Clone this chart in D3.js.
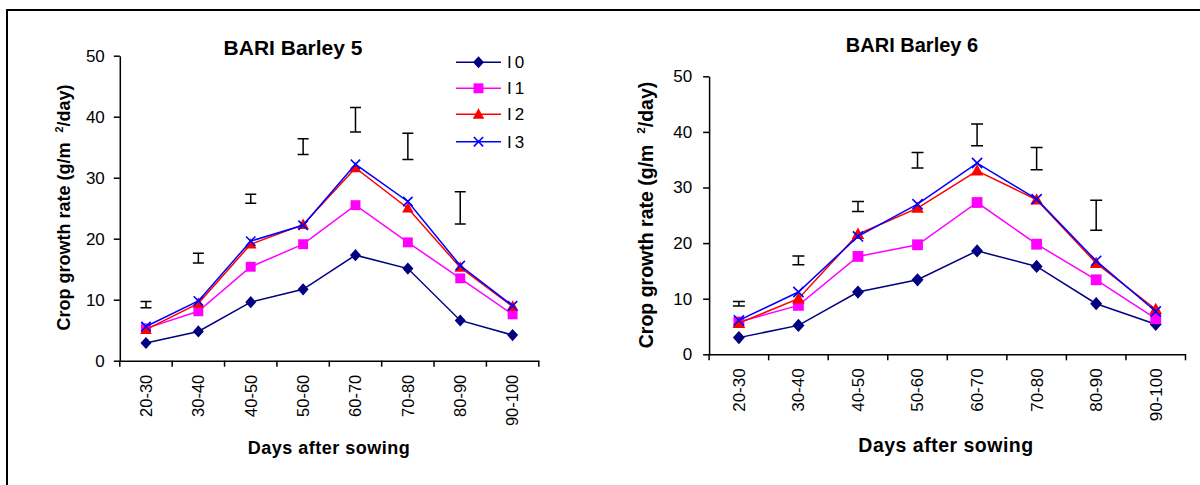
<!DOCTYPE html>
<html>
<head>
<meta charset="utf-8">
<script src="https://cdn.jsdelivr.net/npm/d3@7"></script>
<style>
  body { margin: 0; background: #fff; }
  svg { display: block; font-family: "Liberation Sans", Arial, sans-serif; }
</style>
</head>
<body>
<div id="chart"></div>
<script>
// data
const categories = ["20-30", "30-40", "40-50", "50-60", "60-70", "70-80", "80-90", "90-100"];
const yTicks = [0, 10, 20, 30, 40, 50];
const seriesNames = ["I0", "I1", "I2", "I3"];

// BARI Barley 5
const b5_I0 = [2.9, 4.8, 9.6, 11.7, 17.3, 15.1, 6.6, 4.2];
const b5_I1 = [5.3, 8.1, 15.4, 19.1, 25.5, 19.4, 13.5, 7.6];
const b5_I2 = [5.1, 9.4, 19.1, 22.3, 31.6, 25.0, 15.3, 8.9];
const b5_I3 = [5.6, 9.8, 19.6, 22.2, 32.2, 26.1, 15.6, 9.0];
const b5_errTop = [9.7, 17.6, 27.3, 36.4, 41.5, 37.3, 27.7];
const b5_errBottom = [8.7, 16.0, 25.8, 33.8, 37.5, 33.0, 22.4];

// BARI Barley 6
const b6_I0 = [3.0, 5.2, 11.2, 13.4, 18.6, 15.8, 9.1, 5.4];
const b6_I1 = [5.8, 8.8, 17.6, 19.7, 27.3, 19.8, 13.4, 6.4];
const b6_I2 = [5.6, 10.0, 21.6, 26.3, 33.0, 27.8, 16.4, 8.1];
const b6_I3 = [6.1, 11.2, 21.2, 27.0, 34.4, 27.9, 16.8, 7.7];
const b6_errTop = [9.5, 17.7, 27.5, 36.3, 41.4, 37.2, 27.7];
const b6_errBottom = [8.7, 16.1, 25.7, 33.5, 37.5, 33.2, 22.3];

const colors = ["#000080", "#ff00ff", "#ff0000", "#0000ff"];
const shapes = ["diamond", "square", "triangle", "cross"];

const svg = d3.select("#chart").append("svg")
  .attr("width", 1200)
  .attr("height", 485);

// outer frame
svg.append("rect")
  .attr("x", 7).attr("y", 10)
  .attr("width", 1210).attr("height", 500)
  .attr("fill", "none")
  .attr("stroke", "#000")
  .attr("stroke-width", 2);

function marker(g, shape, color, x, y, s) {
  if (shape === "diamond") {
    g.append("path")
      .attr("d", `M${x},${y - s * 1.1}L${x + s},${y}L${x},${y + s * 1.1}L${x - s},${y}Z`)
      .attr("fill", color);
  } else if (shape === "square") {
    g.append("rect")
      .attr("x", x - s * 0.9).attr("y", y - s * 0.9)
      .attr("width", s * 1.8).attr("height", s * 1.8)
      .attr("fill", color);
  } else if (shape === "triangle") {
    g.append("path")
      .attr("d", `M${x},${y - s * 1.1}L${x + s * 1.05},${y + s * 0.8}L${x - s * 1.05},${y + s * 0.8}Z`)
      .attr("fill", color);
  } else {
    const c = s * 0.85;
    g.append("path")
      .attr("d", `M${x - c},${y - c}L${x + c},${y + c}M${x - c},${y + c}L${x + c},${y - c}`)
      .attr("stroke", color)
      .attr("stroke-width", 1.6)
      .attr("fill", "none");
  }
}

function drawChart(cfg) {
  const g = svg.append("g");

  const x = d3.scaleBand()
    .domain(categories)
    .range([cfg.x0, cfg.x1]);

  const y = d3.scaleLinear()
    .domain([0, 50])
    .range([cfg.yBottom, cfg.yTop]);

  // axes
  const yAxis = g.append("g")
    .attr("transform", `translate(${cfg.x0},0)`)
    .call(d3.axisLeft(y).tickValues(yTicks).tickSize(6).tickSizeOuter(0).tickPadding(cfg.yPad));
  yAxis.select(".domain").attr("stroke-width", 1.5);
  yAxis.selectAll(".tick line").attr("stroke-width", 1.5);
  yAxis.selectAll(".tick text")
    .attr("font-size", cfg.tickFont)
    .attr("fill", "#000");

  const xAxis = g.append("g")
    .attr("transform", `translate(0,${cfg.yBottom})`)
    .call(d3.axisBottom(x).tickSize(0).tickSizeOuter(0));
  xAxis.select(".domain").attr("stroke-width", 1.5);
  xAxis.selectAll(".tick text")
    .attr("font-size", cfg.catFont)
    .attr("fill", "#000")
    .attr("text-anchor", "end")
    .attr("transform", "rotate(-90)")
    .attr("x", -cfg.catPad)
    .attr("y", 0)
    .attr("dy", "0.35em");

  // category boundary ticks
  g.selectAll(".bt")
    .data(categories.concat(["end"]))
    .join("line")
    .attr("x1", (d, i) => i < categories.length ? x(d) : cfg.x1)
    .attr("x2", (d, i) => i < categories.length ? x(d) : cfg.x1)
    .attr("y1", cfg.yBottom)
    .attr("y2", cfg.yBottom + 6)
    .attr("stroke", "#000")
    .attr("stroke-width", 1.5);

  const cx = d => x(d) + x.bandwidth() / 2;

  // LSD error bars
  const eb = g.append("g").attr("stroke", "#000").attr("stroke-width", 1.5).attr("fill", "none");
  cfg.errTop.forEach((t, i) => {
    const xc = cx(categories[i]);
    const b = cfg.errBottom[i];
    eb.append("path")
      .attr("d", `M${xc},${y(t)}V${y(b)}M${xc - cfg.cap},${y(t)}H${xc + cfg.cap}M${xc - cfg.cap},${y(b)}H${xc + cfg.cap}`);
  });

  // series lines and markers
  const line = d3.line()
    .x((d, i) => cx(categories[i]))
    .y(d => y(d));

  cfg.series.forEach((vals, s) => {
    g.append("path")
      .datum(vals)
      .attr("d", line)
      .attr("fill", "none")
      .attr("stroke", colors[s])
      .attr("stroke-width", 1.5);
    const mg = g.append("g");
    vals.forEach((v, i) => marker(mg, shapes[s], colors[s], cx(categories[i]), y(v), cfg.mk));
  });

  // title
  g.append("text")
    .attr("x", cfg.titleX).attr("y", cfg.titleY)
    .attr("text-anchor", "middle")
    .attr("font-size", cfg.titleFont)
    .attr("font-weight", "bold")
    .text(cfg.title);

  // x label
  g.append("text")
    .attr("x", cfg.xLabelX).attr("y", cfg.xLabelY)
    .attr("text-anchor", "middle")
    .attr("font-size", cfg.labelFont)
    .attr("font-weight", "bold")
    .attr("letter-spacing", 0.5)
    .text("Days after sowing");

  // y label with superscript
  const yl = g.append("text")
    .attr("transform", `translate(${cfg.yLabelX},${cfg.yLabelY}) rotate(-90)`)
    .attr("text-anchor", "middle")
    .attr("font-size", cfg.labelFont)
    .attr("font-weight", "bold");
  yl.append("tspan").text("Crop growth rate (g/m\u00a0\u00a0");
  yl.append("tspan").attr("font-size", cfg.labelFont * 0.6).attr("dy", -cfg.labelFont * 0.4).text("2");
  yl.append("tspan").attr("dy", cfg.labelFont * 0.4).text("/day)");

  // legend
  if (cfg.legend) {
    const lg = g.append("g");
    seriesNames.forEach((name, s) => {
      const ly = cfg.legend.rows[s];
      lg.append("line")
        .attr("x1", cfg.legend.x0).attr("x2", cfg.legend.x1)
        .attr("y1", ly).attr("y2", ly)
        .attr("stroke", colors[s])
        .attr("stroke-width", 1.5);
      marker(lg, shapes[s], colors[s], (cfg.legend.x0 + cfg.legend.x1) / 2, ly, 5.5);
      lg.append("text")
        .attr("x", cfg.legend.x1 + 6).attr("y", ly)
        .attr("dy", "0.36em")
        .attr("font-size", 17)
        .attr("letter-spacing", 3)
        .text(name);
    });
  }
}

drawChart({
  title: "BARI Barley 5",
  series: [b5_I0, b5_I1, b5_I2, b5_I3],
  errTop: b5_errTop, errBottom: b5_errBottom,
  x0: 119.8, x1: 538.8, yTop: 55.7, yBottom: 360.7,
  yPad: 9, tickFont: 17, catFont: 16.5, catPad: 14,
  titleX: 293, titleY: 55, titleFont: 21,
  xLabelX: 329, xLabelY: 454, labelFont: 18,
  yLabelX: 70, yLabelY: 207.5,
  cap: 5.5, mk: 5.5,
  legend: { x0: 456, x1: 501, rows: [62.3, 88.3, 114.3, 141.7] }
});

drawChart({
  title: "BARI Barley 6",
  series: [b6_I0, b6_I1, b6_I2, b6_I3],
  errTop: b6_errTop, errBottom: b6_errBottom,
  x0: 709.1, x1: 1185.5, yTop: 76.3, yBottom: 354.3,
  yPad: 11, tickFont: 17, catFont: 17, catPad: 14,
  titleX: 912, titleY: 52.3, titleFont: 20,
  xLabelX: 946, xLabelY: 452, labelFont: 19.5,
  yLabelX: 653, yLabelY: 215,
  cap: 6, mk: 6,
  legend: null
});
</script>
</body>
</html>
